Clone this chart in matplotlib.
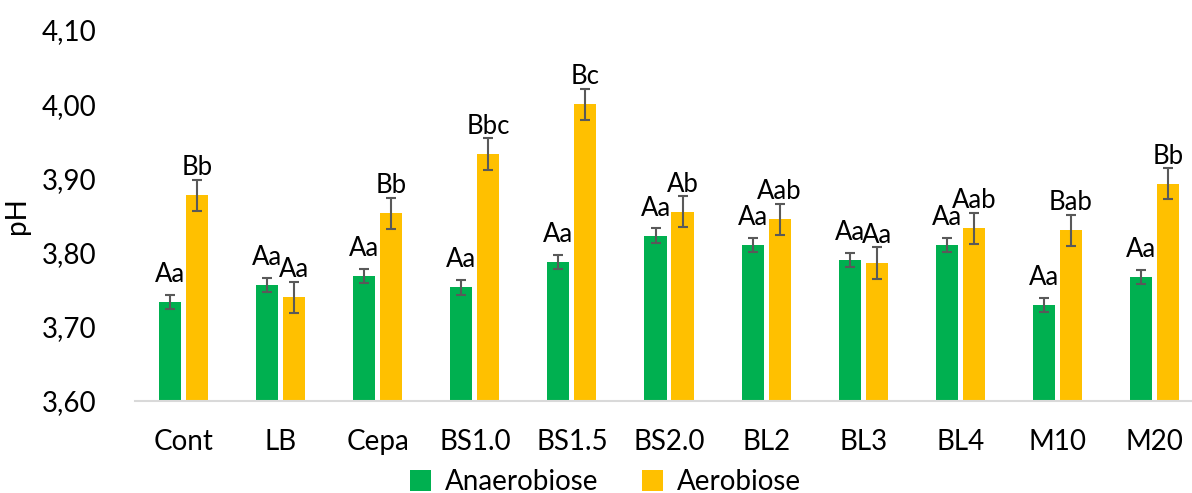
import matplotlib
matplotlib.use('Agg')
import matplotlib.pyplot as plt
import numpy as np

# Dados
categorias = ['Cont', 'LB', 'Cepa', 'BS1.0', 'BS1.5', 'BS2.0', 'BL2', 'BL3', 'BL4', 'M10', 'M20']
anaerobiose = [3.733, 3.756, 3.769, 3.753, 3.787, 3.823, 3.810, 3.790, 3.810, 3.730, 3.767]
aerobiose = [3.877, 3.740, 3.853, 3.933, 4.000, 3.855, 3.845, 3.786, 3.833, 3.830, 3.893]
erro_anaer = [0.0095] * 11
erro_aer = [0.021] * 11
letras_anaer = ['Aa', 'Aa', 'Aa', 'Aa', 'Aa', 'Aa', 'Aa', 'Aa', 'Aa', 'Aa', 'Aa']
letras_aer = ['Bb', 'Aa', 'Bb', 'Bbc', 'Bc', 'Ab', 'Aab', 'Aa', 'Aab', 'Bab', 'Bb']

plt.rcParams['font.family'] = ['Lato', 'DejaVu Sans']
fs = 20

fig = plt.figure(figsize=(11.92, 4.93), dpi=100)
ax = fig.add_axes([0.1133, 0.1866, 0.8867, 0.7525])

x = np.arange(len(categorias))
w = 0.227
off = 0.139
verde = '#00B050'
amarelo = '#FFC000'
err_kw = dict(ecolor='#595959', elinewidth=1.5, capsize=3.8, capthick=1.5)

ax.bar(x - off, anaerobiose, w, color=verde, yerr=erro_anaer, error_kw=err_kw, label='Anaerobiose')
ax.bar(x + off, aerobiose, w, color=amarelo, yerr=erro_aer, error_kw=err_kw, label='Aerobiose')

# Letras acima das barras
for i in range(len(categorias)):
    ax.text(x[i] - off, anaerobiose[i] + 0.027, letras_anaer[i], ha='center', va='baseline', fontsize=18.5)
    ax.text(x[i] + off, aerobiose[i] + 0.027, letras_aer[i], ha='center', va='baseline', fontsize=18.5)

ax.set_ylim(3.60, 4.10)
ax.set_xlim(-0.5, 10.387)
ax.set_yticks(np.arange(3.60, 4.101, 0.10))
ax.set_yticklabels([f'{v:.2f}'.replace('.', ',') for v in np.arange(3.60, 4.101, 0.10)])
ax.set_xticks(x)
ax.set_xticklabels(categorias)
ax.tick_params(axis='both', length=0, labelsize=fs)
ax.tick_params(axis='y', pad=28)
ax.tick_params(axis='x', pad=20)

for s in ['top', 'right', 'left']:
    ax.spines[s].set_visible(False)
ax.spines['bottom'].set_color('#D9D9D9')
ax.spines['bottom'].set_linewidth(1.5)

ax.set_ylabel('pH', fontsize=fs, labelpad=8)

fig.legend(loc='lower center', bbox_to_anchor=(0.508, -0.055), ncol=2, frameon=False,
           fontsize=fs, handlelength=0.75, handleheight=0.75, columnspacing=1.6, handletextpad=0.5)

plt.savefig('out.png', dpi=100)
